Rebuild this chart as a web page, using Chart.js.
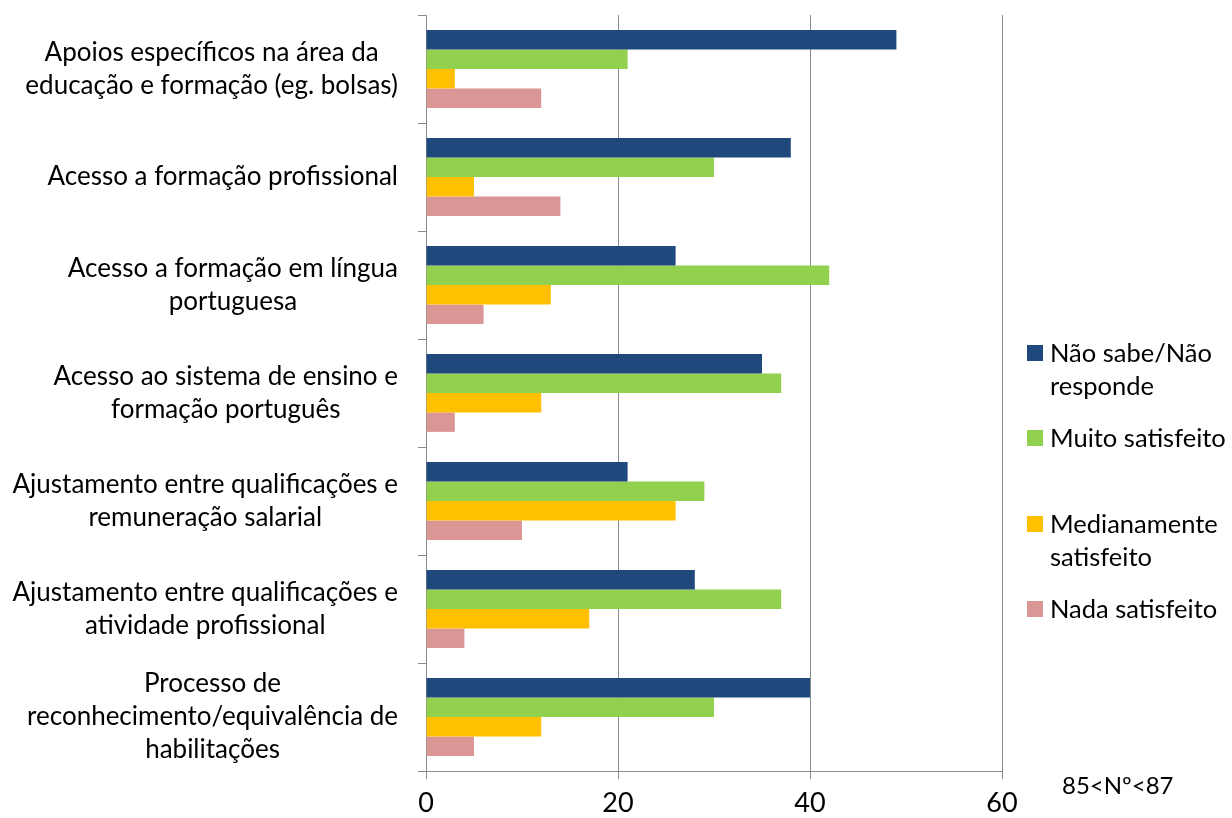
<!DOCTYPE html>
<html>
<head>
<meta charset="utf-8">
<script src="https://cdn.jsdelivr.net/npm/chart.js@4"></script>
<style>
  body { margin: 0; background: #fff; }
  #wrap { width: 1232px; height: 818px; }
</style>
</head>
<body>
<div id="wrap"><canvas id="bar-chart" width="1232" height="818"></canvas></div>
<script>
const COLORS = {
  blue: "#1F497D",
  green: "#92D050",
  yellow: "#FFC000",
  pink: "#D99694",
};

const categories = [
  ["Apoios específicos na área da", "educação e formação (eg. bolsas)"],
  ["Acesso a formação profissional"],
  ["Acesso a formação em língua", "portuguesa"],
  ["Acesso ao sistema de ensino e", "formação português"],
  ["Ajustamento entre qualificações e", "remuneração salarial"],
  ["Ajustamento entre qualificações e", "atividade profissional"],
  ["Processo de", "reconhecimento/equivalência de", "habilitações"],
];
const seriesNames = ["Não sabe/Não responde", "Muito satisfeito", "Medianamente satisfeito", "Nada satisfeito"];
const naoSabe = [49, 38, 26, 35, 21, 28, 40];
const muito = [21, 30, 42, 37, 29, 37, 30];
const medianamente = [3, 5, 13, 12, 26, 17, 12];
const nada = [12, 14, 6, 3, 10, 4, 5];
const xTicks = [0, 20, 40, 60];
const note = "85<Nº<87";

const FONT = "Lato, 'Open Sans', sans-serif";

// legend drawn by hand, spacing like the original
const legendItems = [
  { lines: ["Não sabe/Não", "responde"], color: COLORS.blue, y: 353 },
  { lines: ["Muito satisfeito"], color: COLORS.green, y: 438 },
  { lines: ["Medianamente", "satisfeito"], color: COLORS.yellow, y: 524 },
  { lines: ["Nada satisfeito"], color: COLORS.pink, y: 609 },
];

const sideLegend = {
  id: "sideLegend",
  afterDraw(chart) {
    const ctx = chart.ctx;
    ctx.save();
    ctx.font = "25.5px " + FONT;
    ctx.textBaseline = "middle";
    ctx.textAlign = "left";
    legendItems.forEach((it) => {
      ctx.fillStyle = it.color;
      ctx.fillRect(1027, it.y - 8, 16, 16);
      ctx.fillStyle = "#000";
      it.lines.forEach((ln, i) => ctx.fillText(ln, 1050, it.y + 1 + i * 33));
    });
    ctx.font = "24px " + FONT;
    ctx.fillText(note, 1062, 786);
    ctx.restore();
  },
};

// category labels: each block centred on itself, right edge at the axis
const catLabels = {
  id: "catLabels",
  afterDraw(chart) {
    const ctx = chart.ctx;
    const ys = chart.scales.y;
    const right = ys.right - 28;
    ctx.save();
    ctx.font = "26px " + FONT;
    ctx.fillStyle = "#000";
    ctx.textAlign = "center";
    ctx.textBaseline = "middle";
    categories.forEach((lines, i) => {
      const y = ys.getPixelForTick(i);
      const w = Math.max(...lines.map((l) => ctx.measureText(l).width));
      const cx = right - w / 2;
      lines.forEach((l, j) => ctx.fillText(l, cx, y + (j - (lines.length - 1) / 2) * 33));
    });
    ctx.restore();
  },
};

const data_bar = {
  labels: categories,
  datasets: [
    { label: seriesNames[0], data: naoSabe, backgroundColor: COLORS.blue },
    { label: seriesNames[1], data: muito, backgroundColor: COLORS.green },
    { label: seriesNames[2], data: medianamente, backgroundColor: COLORS.yellow },
    { label: seriesNames[3], data: nada, backgroundColor: COLORS.pink },
  ],
};

const config_bar = {
  type: "bar",
  data: data_bar,
  plugins: [sideLegend, catLabels],
  options: {
    indexAxis: "y",
    responsive: false,
    animation: false,
    layout: { padding: { top: 15, right: 230, left: 0, bottom: 0 } },
    datasets: { bar: { categoryPercentage: 0.72, barPercentage: 1.0 } },
    plugins: {
      legend: { display: false },
      tooltip: { enabled: false },
    },
    scales: {
      x: {
        min: 0,
        max: 60,
        afterBuildTicks: (s) => { s.ticks = xTicks.map((v) => ({ value: v })); },
        afterFit: (s) => { s.height = 47; },
        grid: { color: "#8c8c8c", lineWidth: 1, tickLength: 8, drawTicks: true },
        border: { display: true, color: "#8c8c8c" },
        ticks: { color: "#000", padding: 8, font: { family: FONT, size: 27 }, maxRotation: 0 },
      },
      y: {
        afterFit: (s) => { s.width = 426; s.paddingTop = 0; s.paddingBottom = 0; },
        grid: { drawOnChartArea: false, drawTicks: true, tickLength: 8, offset: true, color: "#8c8c8c" },
        border: { display: true, color: "#8c8c8c" },
        ticks: { display: false, autoSkip: false },
      },
    },
  },
};

var ctx_bar = document.getElementById("bar-chart").getContext("2d");
var myChart_bar = new Chart(ctx_bar, config_bar);
</script>
</body>
</html>
